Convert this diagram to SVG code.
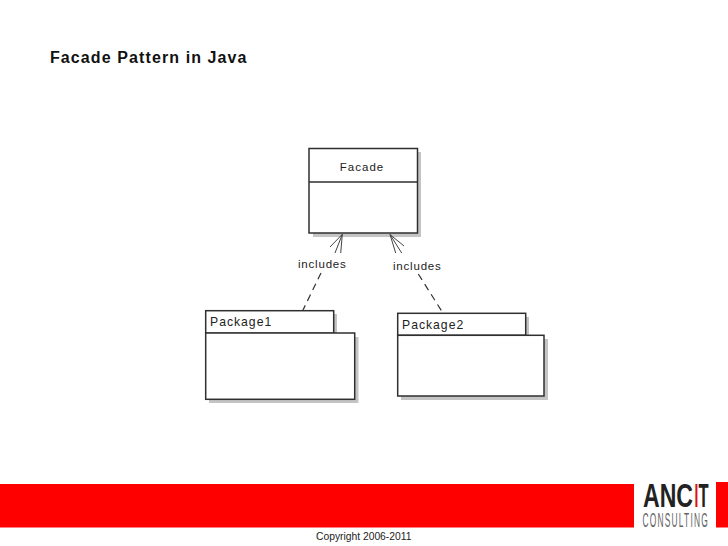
<svg xmlns="http://www.w3.org/2000/svg" width="728" height="546" viewBox="0 0 728 546">
  <style>
    .box { fill: #fff; stroke: #2f2f2f; stroke-width: 1.5; }
    .shadow { fill: #c4c4c4; }
    .lbl { font-family: "Liberation Sans", Arial, sans-serif; font-size: 11.5px; fill: #222; letter-spacing: 0.8px; }
    .pkg { font-size: 12.2px; letter-spacing: 1px; }
    .dash { fill: none; stroke: #333; stroke-width: 1.2; stroke-dasharray: 7 5; }
    .head { fill: none; stroke: #444; stroke-width: 1; }
    .logo { font-family: "Liberation Sans", Arial, sans-serif; font-size: 33px; font-weight: 700; fill: #222; }
  </style>
  <rect width="728" height="546" fill="#fff"/>
  <text x="50" y="62.5" font-family="Liberation Sans, Arial, sans-serif" font-size="16" font-weight="700" fill="#111" letter-spacing="1.1">Facade Pattern in Java</text>

  <g id="footer">
    <rect x="0" y="484" width="634" height="43.5" fill="#fe0000"/>
    <rect x="716" y="482" width="12" height="45.5" fill="#fe0000"/>
    <text x="316" y="540" font-family="Liberation Sans, Arial, sans-serif" font-size="10.3" fill="#222">Copyright 2006-2011</text>
  </g>

  <g id="logo">
    <text class="logo" transform="translate(643 506.7) scale(.7 1)">ANC</text>
    <text class="logo" transform="translate(694.4 506.7) scale(.42 1)" style="fill:#e01010">I</text>
    <text class="logo" transform="translate(698.6 506.7) scale(.5 1)">T</text>
    <text transform="translate(642.5 526.7) scale(.4 1)" font-family="Liberation Sans, Arial, sans-serif" font-size="21" letter-spacing="3" fill="#666">CONSULTING</text>
  </g>

  <g id="facade">
    <rect class="shadow" x="313" y="152" width="108" height="85"/>
    <rect class="box" x="309" y="148.5" width="108.5" height="84.5"/>
    <line class="box" x1="309" y1="182" x2="417.5" y2="182"/>
    <text class="lbl" x="362" y="171" text-anchor="middle" style="letter-spacing:1px">Facade</text>
  </g>

  <g id="package1">
    <rect class="shadow" x="209" y="337" width="149.5" height="66"/>
    <rect class="shadow" x="333" y="314" width="4" height="20"/>
    <rect class="box" x="205.7" y="310.7" width="128" height="22.5"/>
    <rect class="box" x="205.7" y="333" width="149" height="66.3"/>
    <text class="lbl pkg" x="210" y="326">Package1</text>
  </g>

  <g id="package2">
    <rect class="shadow" x="401" y="339" width="147" height="61"/>
    <rect class="shadow" x="525" y="317" width="4" height="19"/>
    <rect class="box" x="397.7" y="313.3" width="128" height="22"/>
    <rect class="box" x="397.7" y="335.3" width="146.3" height="60.7"/>
    <text class="lbl pkg" x="402" y="329">Package2</text>
  </g>

  <g id="connectors">
    <line class="dash" x1="321" y1="273" x2="303" y2="310"/>
    <path class="head" d="M342.3 234.3 L330 247 M342.3 234.3 L335 253 M342.3 234.3 L340.7 253"/>
    <text class="lbl" x="298" y="268">includes</text>
    <line class="dash" x1="418.3" y1="274" x2="442.7" y2="312.7"/>
    <path class="head" d="M390 234.5 L404 246 M390 234.5 L401.7 253 M390 234.5 L395.7 253"/>
    <text class="lbl" x="393" y="270">includes</text>
  </g>
</svg>
